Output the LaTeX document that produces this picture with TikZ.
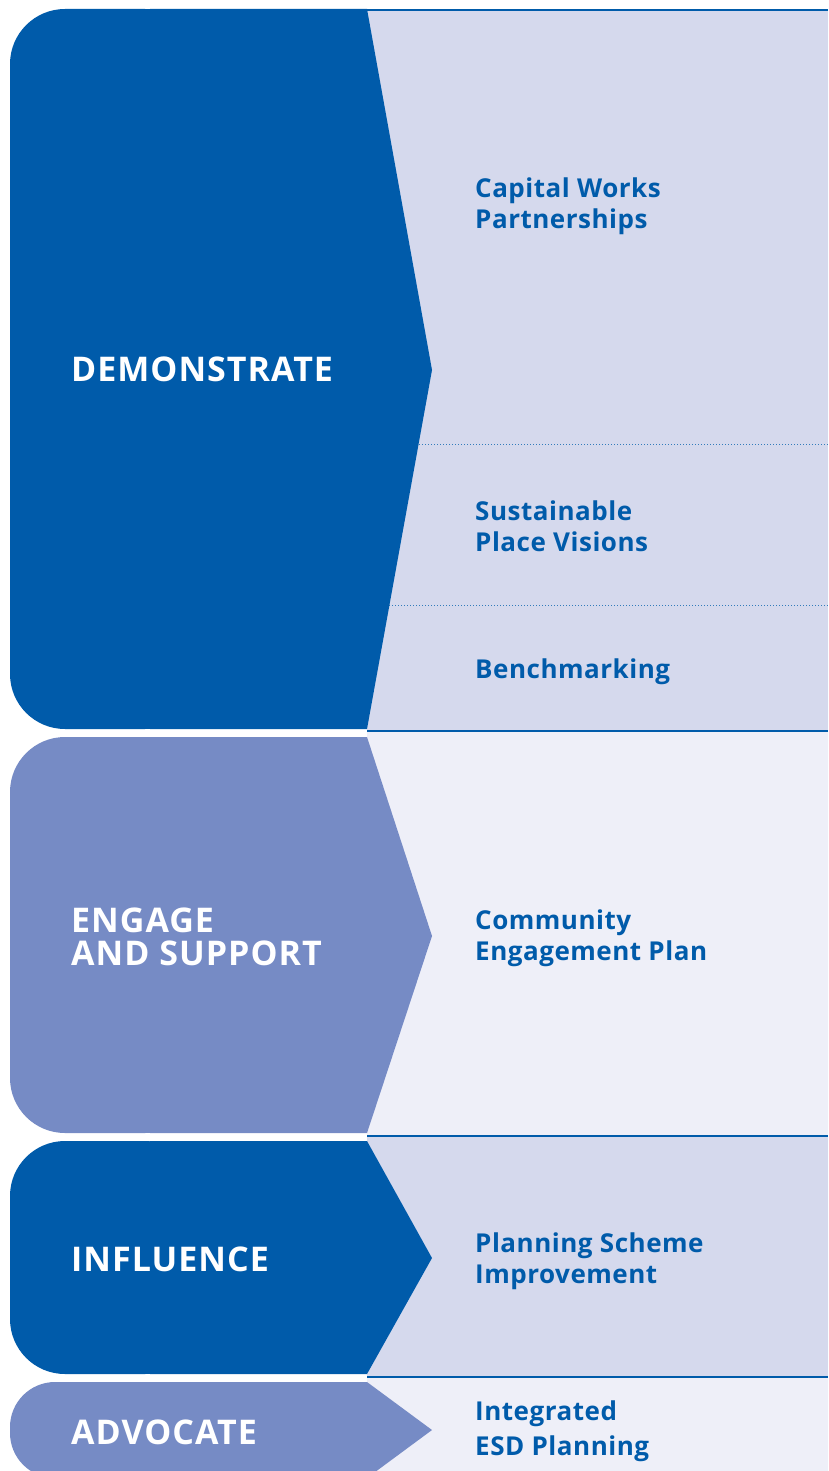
\documentclass[tikz,border=0pt]{standalone}
\usepackage{fontspec}
\setmainfont{Open Sans}
\newfontfamily\headfont{Open Sans}[LetterSpace=3]
\newfontfamily\itemfont{Open Sans}[LetterSpace=2]

\definecolor{deepblue}{RGB}{0,91,170}
\definecolor{softblue}{RGB}{118,139,197}
\definecolor{lavender}{RGB}{213,217,237}
\definecolor{mist}{RGB}{238,239,248}

\tikzset{
  heading/.style={anchor=base west, inner sep=0pt, text=white, align=left,
    font=\headfont\bfseries\fontsize{34}{33}\selectfont},
  item/.style={anchor=base west, inner sep=0pt, text=deepblue, align=left,
    font=\itemfont\bfseries\fontsize{26}{31}\selectfont},
  rule/.style={deepblue, line width=2.5pt},
  dots/.style={deepblue!80, line width=1pt, dash pattern=on 1pt off 2pt}
}

% chevron: colour, top, tip, bottom, corner radius
\newcommand{\chevron}[5]{
  \fill[#1, rounded corners=#5] (10,#2) rectangle (200,#4);
  \fill[#1] (150,#2) -- (367,#2) -- (432,#3) -- (367,#4) -- (150,#4) -- cycle;
}

\begin{document}
\begin{tikzpicture}[x=1pt,y=-1pt]

\useasboundingbox (0,0) rectangle (828,1471);

% panels
\fill[lavender] (367,10) rectangle (828,731);
\fill[mist] (367,731) rectangle (828,1136);
\fill[lavender] (367,1136) rectangle (828,1377);
\fill[mist] (367,1377) rectangle (828,1471);

\draw[dots] (380,444) -- (828,444);
\draw[dots] (380,605) -- (828,605);

\draw[rule] (360,10) -- (828,10);
\draw[rule] (367,731) -- (828,731);
\draw[rule] (367,1136) -- (828,1136);
\draw[rule] (367,1377) -- (828,1377);

% arrows
\chevron{deepblue}{9}{370}{729}{55}
\chevron{softblue}{737}{936}{1133}{55}
\chevron{deepblue}{1141}{1258}{1374}{55}
\chevron{softblue}{1382}{1430}{1478}{45}

% last line baselines
\node[heading] (demonstrate) at (71,381) {DEMONSTRATE};
\node[heading] (engage) at (71,965) {ENGAGE\\AND SUPPORT};
\node[heading] (influence) at (71,1271) {INFLUENCE};
\node[heading] (advocate) at (71,1444) {ADVOCATE};

\node[item] (capital) at (475,229) {Capital Works\\Partnerships};
\node[item] (sustainable) at (475,551) {Sustainable\\Place Visions};
\node[item] (benchmark) at (475,678) {Benchmarking};
\node[item] (community) at (475,960) {Community\\Engagement Plan};
\node[item] (planning) at (475,1283) {Planning Scheme\\Improvement};
\node[item, font=\itemfont\bfseries\fontsize{26}{35}\selectfont] (integrated) at (475,1455) {Integrated\\ESD Planning};

\end{tikzpicture}
\end{document}
